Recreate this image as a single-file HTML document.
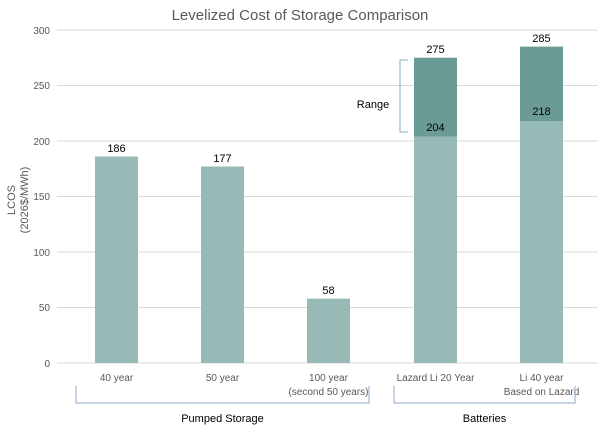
<!DOCTYPE html>
<html><head><style>
body{margin:0;background:#fff;}
text{font-family:"Liberation Sans",sans-serif;}
</style></head><body>
<svg width="600" height="433" viewBox="0 0 600 433" xmlns="http://www.w3.org/2000/svg">
<text x="300" y="20" text-anchor="middle" font-size="15" fill="#595959">Levelized Cost of Storage Comparison</text>
<g stroke="#d9d9d9" stroke-width="1">
<line x1="57" x2="598" y1="30" y2="30"/>
<line x1="57" x2="598" y1="85.5" y2="85.5"/>
<line x1="57" x2="598" y1="141" y2="141"/>
<line x1="57" x2="598" y1="196.5" y2="196.5"/>
<line x1="57" x2="598" y1="252" y2="252"/>
<line x1="57" x2="598" y1="307.5" y2="307.5"/>
<line x1="57" x2="598" y1="363" y2="363"/>
</g>
<g font-size="10" fill="#595959" text-anchor="end">
<text x="50" y="34">300</text><text x="50" y="89">250</text><text x="50" y="145">200</text>
<text x="50" y="200">150</text><text x="50" y="256">100</text><text x="50" y="311">50</text><text x="50" y="367">0</text>
</g>
<text transform="translate(15,200) rotate(-90)" text-anchor="middle" font-size="11" fill="#595959">LCOS</text>
<text transform="translate(28,200) rotate(-90)" text-anchor="middle" font-size="11" fill="#595959">(2026$/MWh)</text>
<g fill="#97bab7">
<rect x="95" y="156.5" width="43" height="206.5"/>
<rect x="201" y="166.5" width="43" height="196.5"/>
<rect x="307" y="298.6" width="43" height="64.4"/>
<rect x="414" y="136.6" width="43" height="226.4"/>
<rect x="520" y="121" width="43" height="242"/>
</g>
<g fill="#6a9c95">
<rect x="414" y="57.7" width="43" height="78.9"/>
<rect x="520" y="46.6" width="43" height="74.4"/>
</g>
<g font-size="11" fill="#000" text-anchor="middle">
<text x="116.5" y="152">186</text><text x="222.5" y="162">177</text><text x="328.5" y="294">58</text>
<text x="435.5" y="53">275</text><text x="435.5" y="131">204</text>
<text x="541.5" y="42">285</text><text x="541.5" y="115">218</text>
</g>
<path d="M408 60 H400 V132 H408" fill="none" stroke="#8ea9c8" stroke-width="1"/>
<text x="373" y="108" text-anchor="middle" font-size="11" fill="#000">Range</text>
<g font-size="10" fill="#595959" text-anchor="middle">
<text x="116.5" y="381">40 year</text><text x="222.5" y="381">50 year</text>
<text x="328.5" y="381">100 year</text><text x="328.5" y="395">(second 50 years)</text>
<text x="435.5" y="381">Lazard Li 20 Year</text>
<text x="541.5" y="381">Li 40 year</text><text x="541.5" y="395">Based on Lazard</text>
</g>
<g fill="none" stroke="#8ea9c8" stroke-width="1">
<path d="M76 386 V403 H369 V386"/>
<path d="M394 386 V403 H575 V386"/>
</g>
<g font-size="11" fill="#000" text-anchor="middle">
<text x="222.5" y="422">Pumped Storage</text>
<text x="484.5" y="422">Batteries</text>
</g>
</svg>
</body></html>
